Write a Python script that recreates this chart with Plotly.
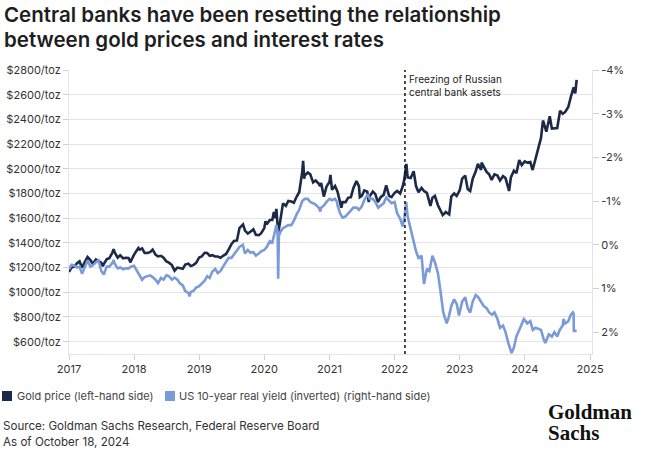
import plotly.graph_objects as go

# ---------------- data ----------------
gold_dates = [
    "2017-01-01","2017-01-15","2017-02-01","2017-02-15","2017-03-01","2017-03-15","2017-04-01","2017-04-15","2017-05-01","2017-05-15","2017-06-01","2017-06-15","2017-07-01","2017-07-10","2017-07-15","2017-08-01","2017-08-15","2017-09-01","2017-09-08","2017-09-15","2017-10-01","2017-10-15","2017-11-01","2017-11-15","2017-12-01","2017-12-12","2017-12-15",
    "2018-01-01","2018-01-15","2018-01-25","2018-02-01","2018-02-15","2018-03-01","2018-03-15","2018-04-01","2018-04-15","2018-05-01","2018-05-15","2018-06-01","2018-06-15","2018-07-01","2018-07-15","2018-08-01","2018-08-16","2018-09-01","2018-09-15","2018-10-01","2018-10-15","2018-11-01","2018-11-15","2018-12-01","2018-12-15",
    "2019-01-01","2019-01-15","2019-02-01","2019-02-15","2019-03-01","2019-03-15","2019-04-01","2019-04-15","2019-05-01","2019-05-15","2019-06-01","2019-06-15","2019-07-01","2019-07-15","2019-08-01","2019-08-15","2019-09-04","2019-09-15","2019-10-01","2019-10-15","2019-11-01","2019-11-15","2019-12-01","2019-12-15",
    "2020-01-01","2020-01-08","2020-01-15","2020-02-01","2020-02-15","2020-02-24","2020-03-01","2020-03-09","2020-03-19","2020-04-01","2020-04-15","2020-05-01","2020-05-15","2020-06-01","2020-06-15","2020-07-01","2020-07-15","2020-08-01","2020-08-06","2020-08-12","2020-08-15","2020-09-01","2020-09-15","2020-10-01","2020-10-15","2020-11-01","2020-11-09","2020-11-15","2020-11-30","2020-12-15",
    "2021-01-01","2021-01-06","2021-01-15","2021-02-01","2021-02-15","2021-03-01","2021-03-08","2021-03-15","2021-04-01","2021-04-15","2021-05-01","2021-05-15","2021-06-01","2021-06-15","2021-06-20","2021-07-01","2021-07-15","2021-08-01","2021-08-09","2021-08-15","2021-09-01","2021-09-15","2021-09-29","2021-10-15","2021-11-01","2021-11-15","2021-12-01","2021-12-15",
    "2022-01-01","2022-01-15","2022-02-01","2022-02-15","2022-02-24","2022-03-08","2022-03-15","2022-04-01","2022-04-18","2022-05-01","2022-05-15","2022-06-01","2022-06-15","2022-07-01","2022-07-21","2022-08-01","2022-08-15","2022-09-01","2022-09-15","2022-09-28","2022-10-15","2022-11-03","2022-11-15","2022-12-01","2022-12-15",
    "2023-01-01","2023-01-15","2023-02-01","2023-02-15","2023-03-01","2023-03-15","2023-04-01","2023-04-13","2023-05-01","2023-05-04","2023-05-15","2023-06-01","2023-06-15","2023-06-29","2023-07-15","2023-08-01","2023-08-15","2023-09-01","2023-09-15","2023-10-05","2023-10-15","2023-11-01","2023-11-15","2023-12-01","2023-12-15",
    "2024-01-01","2024-01-15","2024-02-01","2024-02-14","2024-03-01","2024-03-15","2024-04-01","2024-04-12","2024-04-15","2024-05-01","2024-05-20","2024-06-01","2024-06-15","2024-07-01","2024-07-17","2024-08-01","2024-08-15","2024-09-01","2024-09-15","2024-10-01","2024-10-10","2024-10-18",
]
gold_values = [
    1165,1200,1210,1235,1250,1200,1248,1285,1260,1230,1265,1255,1240,1210,1228,1268,1275,1320,1348,1320,1280,1300,1275,1280,1278,1242,1255,
    1305,1338,1358,1345,1355,1318,1318,1325,1345,1305,1290,1295,1280,1250,1240,1220,1175,1200,1195,1190,1225,1232,1212,1222,1238,
    1282,1290,1320,1318,1295,1300,1290,1290,1280,1295,1310,1345,1390,1415,1420,1520,1550,1500,1475,1490,1510,1465,1462,1478,
    1520,1575,1550,1585,1585,1650,1600,1675,1475,1590,1720,1700,1740,1735,1725,1775,1810,1975,2065,1920,1945,1970,1955,1890,1905,1880,1860,1885,1775,1855,
    1895,1950,1830,1860,1815,1730,1685,1730,1730,1765,1770,1845,1900,1860,1770,1780,1825,1815,1730,1780,1815,1795,1730,1770,1790,1865,1780,1770,
    1805,1820,1800,1855,1910,2040,1930,1925,1980,1860,1810,1845,1820,1805,1700,1765,1780,1705,1665,1625,1650,1630,1775,1800,1780,
    1825,1920,1945,1835,1820,1920,1980,2040,1990,2050,2020,1975,1955,1910,1955,1945,1905,1940,1925,1820,1930,1985,1965,2070,2030,
    2060,2050,2055,1990,2085,2160,2250,2390,2380,2300,2425,2325,2330,2330,2470,2445,2460,2500,2580,2660,2610,2720,
]

yield_dates = [
    "2017-01-01","2017-01-15","2017-02-01","2017-02-15","2017-03-01","2017-03-15","2017-04-01","2017-04-15","2017-05-01","2017-05-15","2017-06-01","2017-06-15","2017-07-01","2017-07-15","2017-08-01","2017-08-15","2017-09-01","2017-09-08","2017-09-15","2017-10-01","2017-10-15","2017-11-01","2017-11-15","2017-12-01","2017-12-15",
    "2018-01-01","2018-01-15","2018-02-01","2018-02-15","2018-03-01","2018-03-15","2018-04-01","2018-04-15","2018-05-01","2018-05-15","2018-06-01","2018-06-15","2018-07-01","2018-07-15","2018-08-01","2018-08-15","2018-09-01","2018-09-15","2018-10-01","2018-10-15","2018-11-01","2018-11-08","2018-11-15","2018-12-01","2018-12-15",
    "2019-01-01","2019-01-15","2019-02-01","2019-02-15","2019-03-01","2019-03-15","2019-04-01","2019-04-15","2019-05-01","2019-05-15","2019-06-01","2019-06-15","2019-07-01","2019-07-15","2019-08-01","2019-08-15","2019-09-03","2019-09-15","2019-10-01","2019-10-15","2019-11-01","2019-11-15","2019-12-01","2019-12-15",
    "2020-01-01","2020-01-15","2020-02-01","2020-02-15","2020-03-01","2020-03-09","2020-03-16","2020-03-19","2020-03-23","2020-04-01","2020-04-15","2020-05-01","2020-05-15","2020-06-01","2020-06-15","2020-07-01","2020-07-15","2020-08-01","2020-08-15","2020-09-01","2020-09-15","2020-10-01","2020-10-15","2020-11-01","2020-11-10","2020-11-15","2020-12-01","2020-12-15",
    "2021-01-01","2021-01-15","2021-02-01","2021-02-12","2021-02-15","2021-03-01","2021-03-15","2021-04-01","2021-04-15","2021-05-01","2021-05-15","2021-06-01","2021-06-15","2021-07-01","2021-07-15","2021-08-03","2021-08-15","2021-09-01","2021-09-15","2021-10-01","2021-10-15","2021-11-01","2021-11-15","2021-12-01","2021-12-15",
    "2022-01-01","2022-01-15","2022-02-01","2022-02-15","2022-02-25","2022-03-07","2022-03-15","2022-04-01","2022-04-15","2022-05-01","2022-05-15","2022-06-01","2022-06-15","2022-07-01","2022-07-15","2022-08-01","2022-08-15","2022-09-01","2022-09-15","2022-10-01","2022-10-20","2022-11-01","2022-11-15","2022-12-01","2022-12-15","2022-12-28",
    "2023-01-15","2023-02-01","2023-02-15","2023-03-01","2023-03-15","2023-04-01","2023-04-15","2023-05-01","2023-05-15","2023-06-01","2023-06-15","2023-07-01","2023-07-15","2023-08-01","2023-08-15","2023-09-01","2023-09-15","2023-10-01","2023-10-19","2023-11-01","2023-11-15","2023-12-01","2023-12-15","2023-12-27",
    "2024-01-15","2024-02-01","2024-02-15","2024-03-01","2024-03-15","2024-04-01","2024-04-15","2024-04-25","2024-05-15","2024-06-01","2024-06-15","2024-07-01","2024-07-15","2024-08-01","2024-08-05","2024-08-15","2024-09-01","2024-09-15","2024-09-27","2024-10-01","2024-10-02","2024-10-18",
]
yield_values = [
    0.56,0.46,0.48,0.52,0.50,0.66,0.50,0.36,0.50,0.47,0.40,0.36,0.60,0.68,0.50,0.50,0.42,0.35,0.44,0.54,0.52,0.56,0.54,0.54,0.50,
    0.48,0.58,0.72,0.80,0.74,0.72,0.70,0.74,0.80,0.88,0.76,0.80,0.70,0.72,0.80,0.75,0.80,0.88,0.93,1.06,1.10,1.18,1.08,1.05,0.98,
    0.95,0.90,0.82,0.72,0.76,0.62,0.55,0.65,0.60,0.50,0.38,0.30,0.30,0.22,0.15,0.05,0.00,0.20,0.12,0.18,0.17,0.25,0.20,0.15,
    0.12,0.05,-0.08,-0.05,-0.30,-0.45,-0.30,0.78,-0.20,-0.30,-0.38,-0.42,-0.45,-0.45,-0.55,-0.70,-0.80,-1.00,-1.05,-1.05,-0.98,-0.95,-0.92,-0.85,-0.76,-0.85,-0.90,-0.98,
    -1.05,-1.02,-1.05,-0.98,-0.90,-0.72,-0.62,-0.65,-0.72,-0.80,-0.85,-0.85,-0.80,-0.88,-1.02,-1.15,-1.05,-1.05,-0.98,-0.85,-0.90,-0.95,-1.08,-1.02,-0.95,
    -0.98,-0.72,-0.60,-0.42,-0.62,-0.98,-0.65,-0.35,-0.10,0.15,0.30,0.25,0.90,0.55,0.60,0.25,0.40,0.65,1.05,1.55,1.80,1.65,1.40,1.25,1.35,1.62,
    1.30,1.20,1.45,1.55,1.30,1.15,1.20,1.30,1.40,1.45,1.55,1.60,1.55,1.70,1.90,1.85,2.00,2.25,2.48,2.35,2.10,1.95,1.80,1.70,
    1.80,1.75,1.95,1.90,1.92,1.95,2.15,2.25,2.05,2.10,2.00,2.10,1.95,1.85,1.70,1.80,1.75,1.60,1.55,1.58,1.97,1.97,
]

year_ticks = ["2017","2018","2019","2020","2021","2022","2023","2024","2025"]
gold_ticks = [600, 800, 1000, 1200, 1400, 1600, 1800, 2000, 2200, 2400, 2600, 2800]
yield_ticks = [-4, -3, -2, -1, 0, 1, 2]

title_lines = ["Central banks have been resetting the relationship",
               "between gold prices and interest rates"]
legend_labels = ["Gold price (left-hand side)",
                 "US 10-year real yield (inverted) (right-hand side)"]
event_label = "Freezing of Russian<br>central bank assets"
event_date = "2022-02-28"
source_lines = ["Source: Goldman Sachs Research, Federal Reserve Board",
                "As of October 18, 2024"]

GOLD_C = "#1c2a48"
BLUE_C = "#7b9bd8"
GRID_C = "#e4e4e4"
TEXT_C = "#333333"
FONT = "Inter"

# ---------------- layout geometry ----------------
W, H = 645, 457
L, R, T, B = 69, 53, 70, 103
PW, PH = W - L - R, H - T - B


def px_x(px):
    return (px - L) / PW


def px_y(py):
    return (H - B - py) / PH


fig = go.Figure()
fig.add_trace(go.Scatter(x=yield_dates, y=yield_values, yaxis="y2", mode="lines",
                         line=dict(color=BLUE_C, width=2.6), showlegend=False,
                         hoverinfo="skip"))
fig.add_trace(go.Scatter(x=gold_dates, y=gold_values, mode="lines",
                         line=dict(color=GOLD_C, width=2.6), showlegend=False,
                         hoverinfo="skip"))

fig.update_layout(
    width=W, height=H,
    margin=dict(l=L, r=R, t=T, b=B, autoexpand=False),
    paper_bgcolor="white", plot_bgcolor="white",
    font=dict(family=FONT, color=TEXT_C, size=11),
    xaxis=dict(type="date", range=["2017-01-01", "2025-01-12"], automargin=False,
               tickvals=[f"{y}-01-01" for y in year_ticks], ticktext=year_ticks,
               showgrid=False, zeroline=False, showline=True, linecolor=GRID_C,
               ticks="outside", ticklen=5, tickcolor="#d0d0d0",
               tickfont=dict(size=11, color=TEXT_C)),
    yaxis=dict(range=[500, 2800], tickvals=gold_ticks, automargin=False,
               ticktext=[f"${v}/toz" for v in gold_ticks],
               showgrid=True, gridcolor=GRID_C, gridwidth=1, zeroline=False,
               showline=True, linecolor=GRID_C, ticks="outside", ticklen=5,
               tickcolor="#d0d0d0", tickfont=dict(size=11, color=TEXT_C)),
    yaxis2=dict(overlaying="y", side="right", range=[2.5, -4], automargin=False,
                tickvals=yield_ticks, ticktext=[f"{v}%" for v in yield_ticks],
                showgrid=False, zeroline=False, showline=True, linecolor=GRID_C,
                ticks="outside", ticklen=6, tickcolor="#d0d0d0",
                tickfont=dict(size=11, color=TEXT_C)),
)

# title
for i, line in enumerate(title_lines):
    fig.add_annotation(text=line, xref="paper", yref="paper", x=px_x(2),
                       y=px_y(15 + 25 * i), xanchor="left", yanchor="middle",
                       showarrow=False,
                       font=dict(family=FONT, size=20.5, color="#1e1e1e", weight=600))

# event line + label
fig.add_shape(type="line", x0=event_date, x1=event_date, xref="x",
              y0=0, y1=1, yref="paper",
              line=dict(color="#111111", width=1.5, dash="dot"))
fig.add_annotation(text=event_label, x="2022-03-12", xref="x", xanchor="left",
                   y=px_y(71), yref="paper", yanchor="top", showarrow=False,
                   align="left", font=dict(size=10, color="#222222"))

# legend (squares + labels)
leg = [(2, 15, GOLD_C, legend_labels[0]), (165, 177, BLUE_C, legend_labels[1])]
for sx, tx, col, lab in leg:
    fig.add_shape(type="rect", xref="paper", yref="paper",
                  x0=px_x(sx), x1=px_x(sx + 10), y0=px_y(401), y1=px_y(391),
                  fillcolor=col, line=dict(color=col, width=0))
    fig.add_annotation(text=lab, xref="paper", yref="paper", x=px_x(tx),
                       y=px_y(396), xanchor="left", yanchor="middle",
                       showarrow=False, font=dict(size=11, color="#444444"))

# source
for i, line in enumerate(source_lines):
    fig.add_annotation(text=line, xref="paper", yref="paper", x=px_x(1),
                       y=px_y(426 + 15.5 * i), xanchor="left", yanchor="middle",
                       showarrow=False, font=dict(size=11.6, color=TEXT_C))

# logo
for i, word in enumerate(["Goldman", "Sachs"]):
    fig.add_annotation(text=f"<b>{word}</b>", xref="paper", yref="paper",
                       x=px_x(546), y=px_y(412 + 21 * i), xanchor="left",
                       yanchor="middle", showarrow=False,
                       font=dict(family="Liberation Serif", size=21, color="#111111"))

fig.write_html("out.html")
